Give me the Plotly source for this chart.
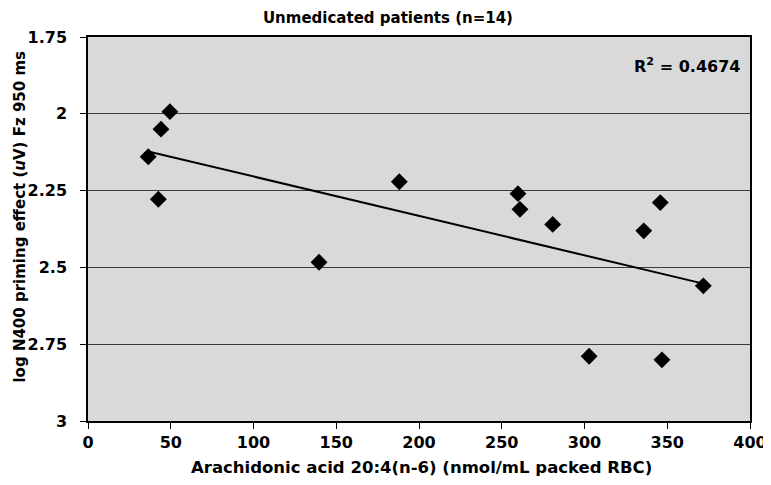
import numpy as np
import plotly.graph_objects as go

# Data
arachidonic = [49.5, 44.1, 36.4, 42.5, 139.6, 188.1, 259.8, 261.0, 280.8, 335.8, 345.8, 371.8, 302.8, 346.8]
log_n400 = [1.993, 2.05, 2.14, 2.278, 2.483, 2.221, 2.26, 2.311, 2.36, 2.381, 2.289, 2.56, 2.789, 2.801]
x_ticks = [0, 50, 100, 150, 200, 250, 300, 350, 400]
y_ticks = [1.75, 2, 2.25, 2.5, 2.75, 3]
y_tick_labels = ["1.75", "2", "2.25", "2.5", "2.75", "3"]
title_text = "Unmedicated patients (n=14)"
x_title = "Arachidonic acid 20:4(n-6) (nmol/mL packed RBC)"
y_title = "log N400 priming effect (<i>u</i>V) Fz 950 ms"
r2_label = "R<sup>2</sup> = 0.4674"

x = np.array(arachidonic)
y = np.array(log_n400)
slope, intercept = np.polyfit(x, y, 1)
x_fit = np.array([x.min(), x.max()])
y_fit = slope * x_fit + intercept

font_family = "Verdana, DejaVu Sans, sans-serif"

fig = go.Figure()
fig.add_trace(go.Scatter(
    x=x_fit, y=y_fit, mode="lines",
    line=dict(color="black", width=2), showlegend=False, hoverinfo="skip"))
fig.add_trace(go.Scatter(
    x=arachidonic, y=log_n400, mode="markers",
    marker=dict(symbol="diamond", size=13, color="black"), showlegend=False))

# The page body has an 8px margin, so the figure is sized 8px smaller.
fig.update_layout(
    width=763, height=477,
    margin=dict(l=80, r=21, t=29, b=64, autoexpand=False),
    paper_bgcolor="white",
    plot_bgcolor="#d9d9d9",
    font=dict(family=font_family, color="black"),
    title=dict(text="<b>" + title_text + "</b>", x=0.498, xanchor="center", xref="container",
               y=0.979, yanchor="middle", yref="container",
               font=dict(size=15, family=font_family), automargin=False),
    xaxis=dict(
        range=[0, 400], tickvals=x_ticks, ticktext=[f"<b>{v}</b>" for v in x_ticks],
        showgrid=False, zeroline=False, automargin=False,
        showline=True, linecolor="black", linewidth=1.5, mirror=True,
        ticks="outside", ticklen=6, tickcolor="black",
        tickfont=dict(size=16, family=font_family),
    ),
    yaxis=dict(
        range=[3, 1.75], tickvals=y_ticks, ticktext=[f"<b>{t}</b>" for t in y_tick_labels],
        showgrid=True, gridcolor="#3a3a3a", gridwidth=1, zeroline=False, automargin=False,
        showline=True, linecolor="black", linewidth=1.5, mirror=True,
        ticks="outside", ticklen=6, tickcolor="black", ticklabelstandoff=10,
        tickfont=dict(size=16, family=font_family),
    ),
    annotations=[
        dict(text="<b>" + r2_label + "</b>", xref="paper", yref="paper",
             x=0.988, y=0.925, xanchor="right", yanchor="middle", showarrow=False,
             font=dict(size=16, family=font_family)),
        dict(text="<b>" + x_title + "</b>", xref="paper", yref="paper",
             x=0.504, y=-0.12, xanchor="center", yanchor="middle", showarrow=False,
             font=dict(size=16.5, family=font_family)),
        dict(text="<b>" + y_title + "</b>", xref="paper", yref="paper",
             x=-0.103, y=0.532, xanchor="center", yanchor="middle", showarrow=False,
             textangle=-90, font=dict(size=15, family=font_family)),
    ],
)

fig.write_html("out.html")
